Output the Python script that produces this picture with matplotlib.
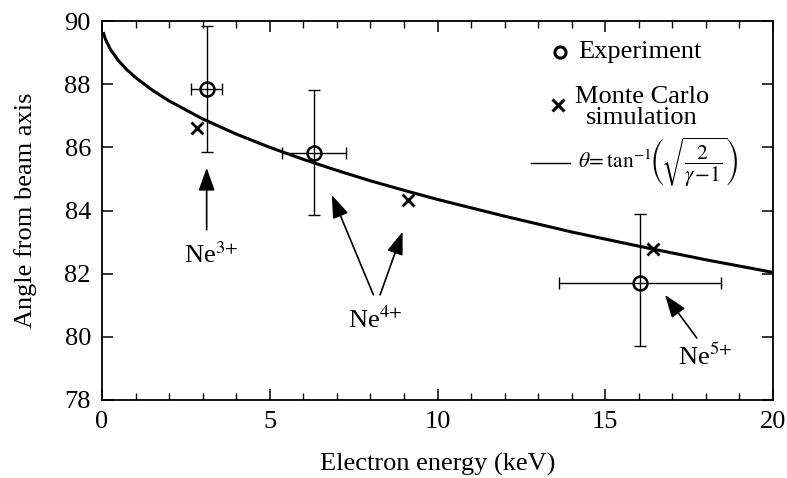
import matplotlib
matplotlib.use("Agg")
import matplotlib.pyplot as plt
from matplotlib.ticker import MultipleLocator

# theory curve (keV, degrees)
curve_e = [0.05, 0.1, 0.25, 0.5, 0.75, 1, 1.5, 2, 3, 4, 5, 6, 7, 8, 9, 10,
           12, 14, 16, 18, 20]
curve_ang = [89.60, 89.43, 89.10, 88.73, 88.45, 88.21, 87.81, 87.47, 86.90,
             86.42, 86.00, 85.62, 85.27, 84.94, 84.64, 84.35, 83.82, 83.32,
             82.87, 82.44, 82.04]

# experiment points with error bars
exp_e = [3.12, 6.33, 16.04]
exp_ang = [87.85, 85.81, 81.70]
exp_xerr = [0.47, 0.95, 2.41]
exp_yerr_lo = [2.0, 1.95, 2.0]
exp_yerr_hi = [2.0, 2.0, 2.2]

# Monte Carlo points
mc_e = [2.84, 9.13, 16.43]
mc_ang = [86.60, 84.34, 82.78]

plt.rcParams.update({
    "font.family": ["Liberation Serif", "DejaVu Serif"],
    "mathtext.fontset": "stix",
    "font.size": 19,
    "axes.linewidth": 1.3,
    "xtick.direction": "in",
    "ytick.direction": "in",
    "xtick.top": True,
    "ytick.right": True,
})

fig = plt.figure(figsize=(7.87, 4.78), dpi=100)
ax = fig.add_axes([102 / 787, 1 - 400 / 478, 671 / 787, 379 / 478])

ax.plot(curve_e, curve_ang, color="black", lw=2.2, zorder=2)

ax.errorbar(exp_e, exp_ang, xerr=exp_xerr, yerr=[exp_yerr_lo, exp_yerr_hi],
            fmt="none", ecolor="black", elinewidth=1.0, capsize=4,
            capthick=1.0, zorder=3)
ax.plot(exp_e, exp_ang, "o", ms=10, mfc="none", mec="black", mew=1.8,
        zorder=4)
ax.plot(mc_e, mc_ang, "x", ms=9, mec="black", mew=2.0, zorder=4)

ax.set_xlim(0, 20)
ax.set_ylim(78, 90)
ax.xaxis.set_major_locator(MultipleLocator(5))
ax.xaxis.set_minor_locator(MultipleLocator(1))
ax.yaxis.set_major_locator(MultipleLocator(2))
ax.tick_params(which="major", length=8, width=1.1, pad=8)
ax.tick_params(which="minor", length=5, width=1.0)
ax.set_xlabel("Electron energy (keV)", labelpad=14)
ax.set_ylabel("Angle from beam axis", labelpad=20)

# ion labels with arrows
arrow = dict(arrowstyle="-|>,head_length=0.7,head_width=0.25",
             color="black", lw=1.2, shrinkA=0, shrinkB=0, mutation_scale=20)
ax.annotate("", xy=(3.12, 85.35), xytext=(3.12, 83.39), arrowprops=arrow)
ax.text(3.27, 82.59, r"Ne$^{3\!+}$", ha="center", va="center")

ax.annotate("", xy=(6.85, 84.49), xytext=(8.09, 81.33), arrowprops=arrow)
ax.annotate("", xy=(8.96, 83.33), xytext=(8.29, 81.33), arrowprops=arrow)
ax.text(8.14, 80.55, r"Ne$^{4\!+}$", ha="center", va="center")

ax.annotate("", xy=(16.78, 81.33), xytext=(17.73, 79.96), arrowprops=arrow)
ax.text(17.97, 79.38, r"Ne$^{5\!+}$", ha="center", va="center")

# legend drawn by hand
tr = ax.transAxes
ax.plot([0.682], [0.919], "o", ms=8, mfc="none", mec="black", mew=2.2,
        transform=tr)
ax.text(0.709, 0.919, "Experiment", ha="left", va="center", transform=tr)
ax.plot([0.680], [0.778], "x", ms=8, mec="black", mew=2.2, transform=tr)
ax.text(0.805, 0.772, "Monte Carlo\nsimulation", ha="center", va="center",
        multialignment="center", linespacing=0.95, transform=tr)
ax.plot([0.640, 0.697], [0.626, 0.626], color="black", lw=1.0, transform=tr)
ax.text(0.709, 0.628,
        r"$\theta\!=\tan^{-1}\!\!\left(\!\sqrt{\dfrac{2}{\gamma\!-\!1}}\right)$",
        ha="left", va="center", transform=tr, fontsize=15.5)

fig.savefig("out.png", dpi=100)
